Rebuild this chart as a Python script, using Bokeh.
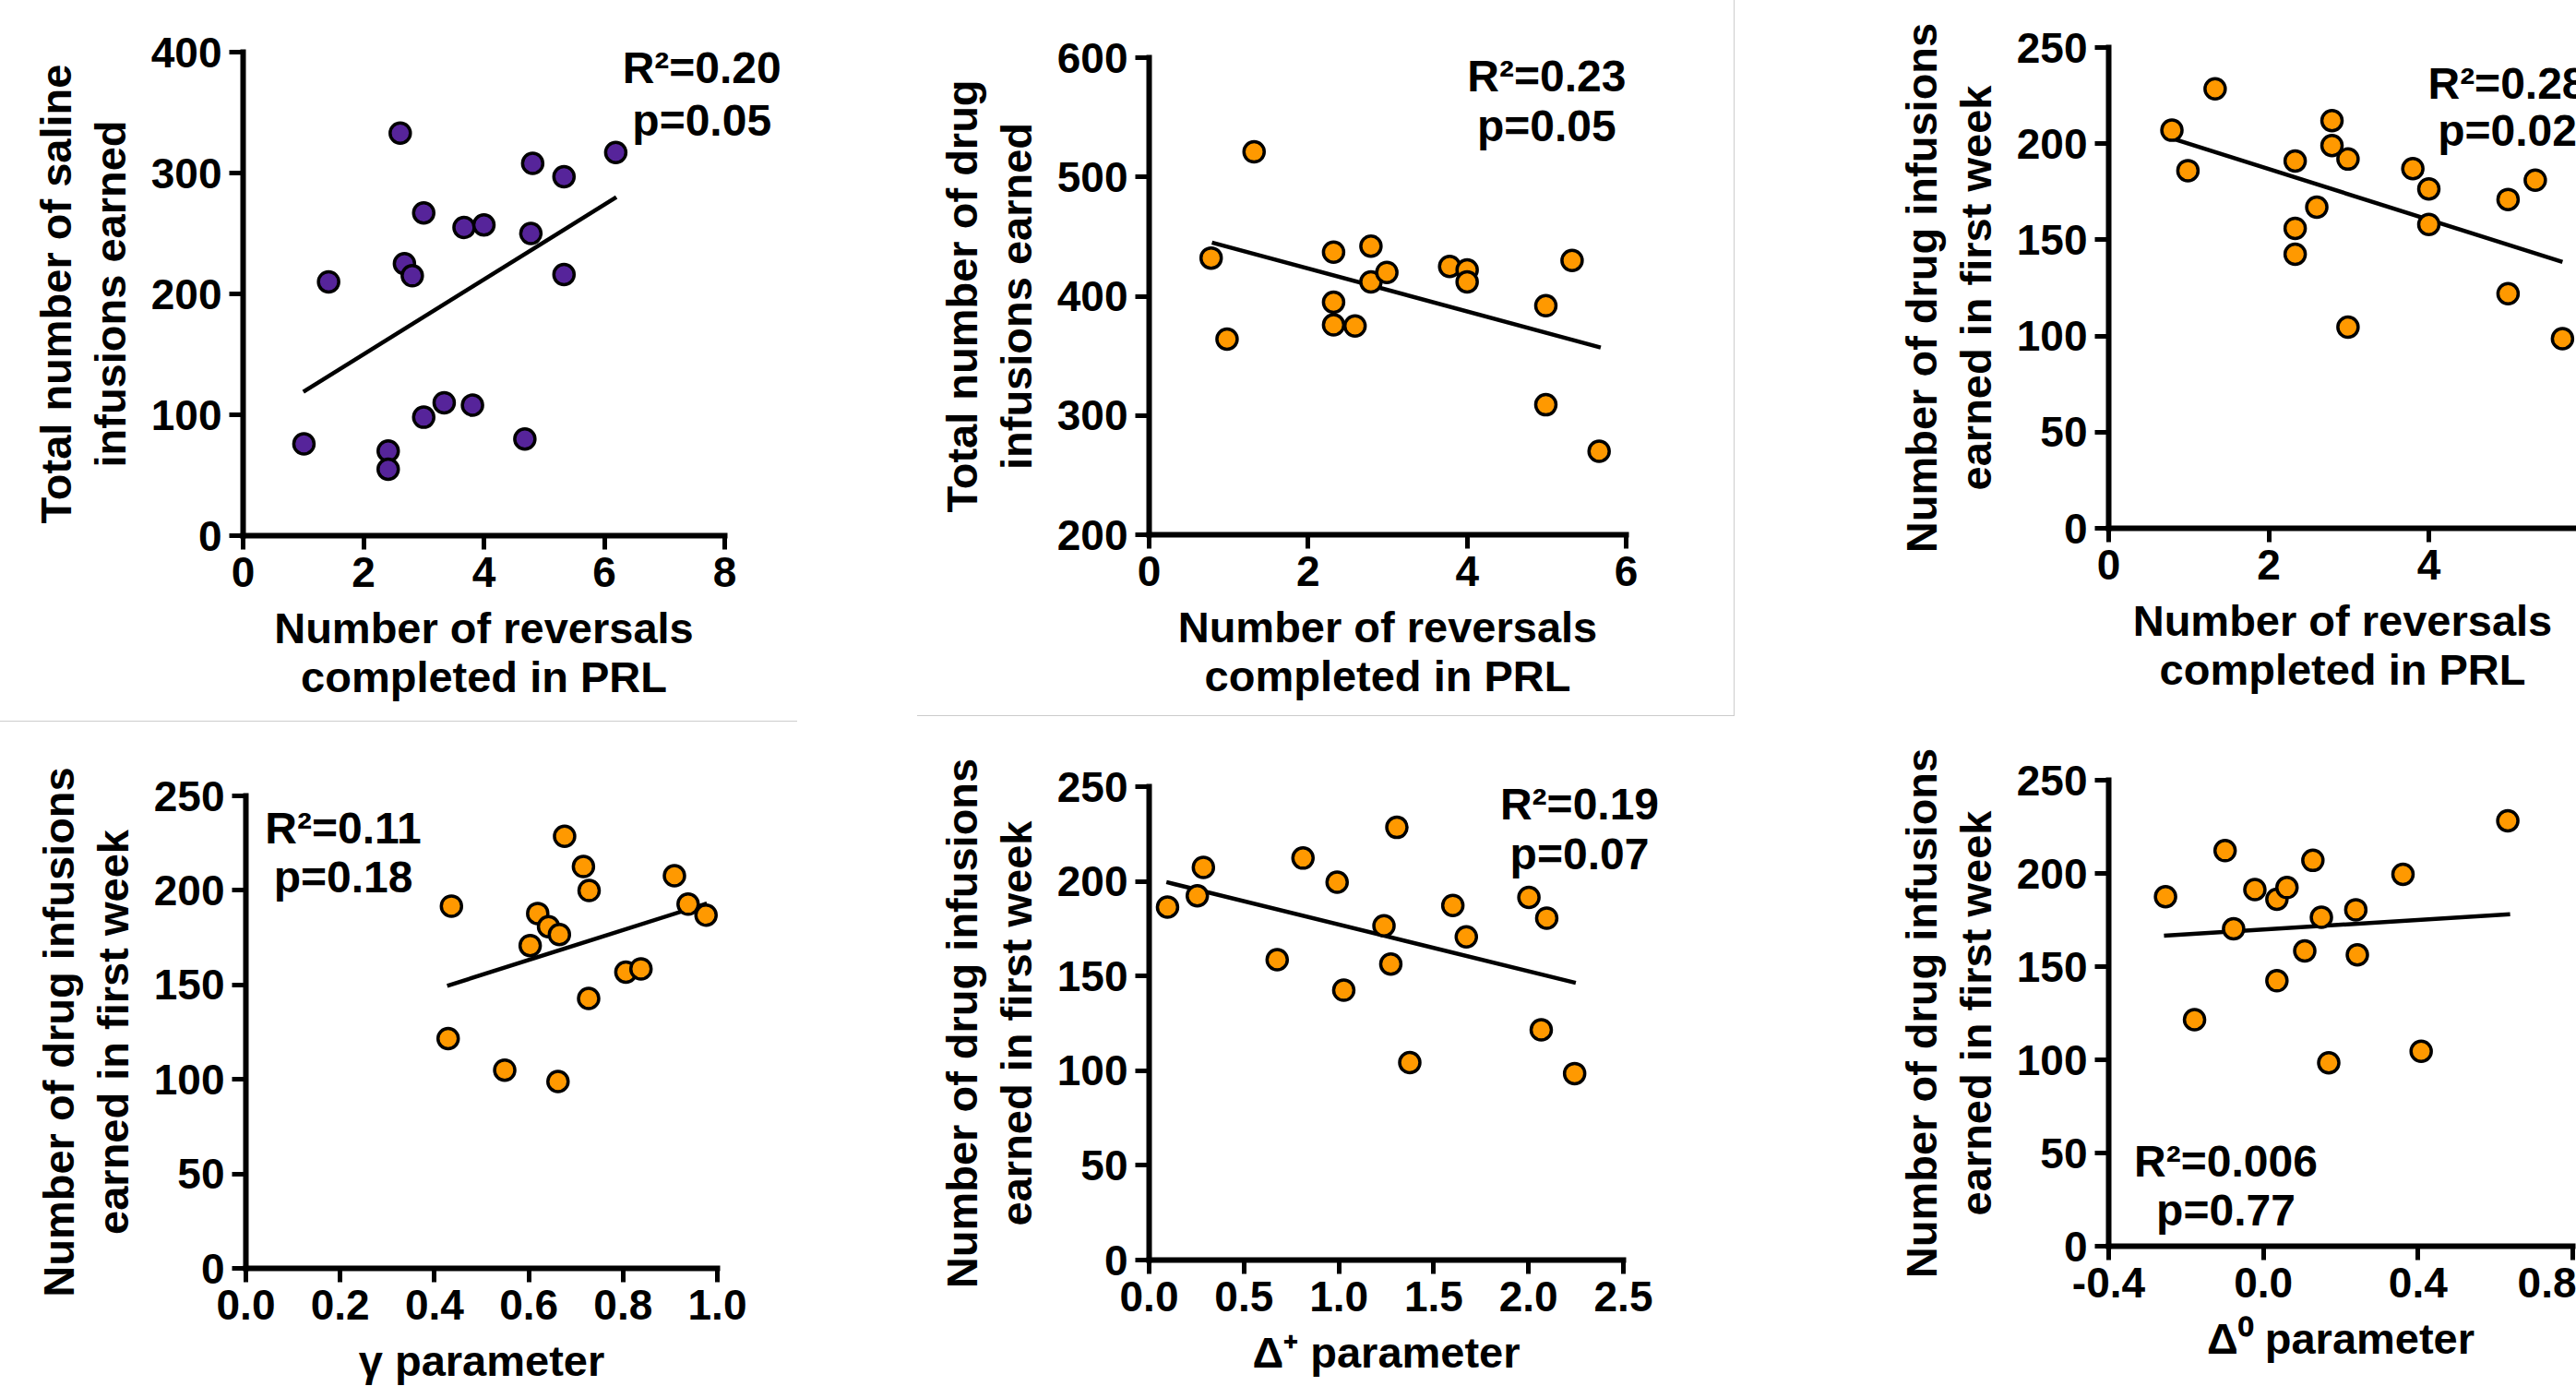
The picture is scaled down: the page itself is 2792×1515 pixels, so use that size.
from bokeh.plotting import figure
from bokeh.layouts import column, row
from bokeh.models import Range1d, FixedTicker, PrintfTickFormatter, Label, Spacer
from bokeh.embed import file_html
from bokeh.resources import INLINE

FONT = "Liberation Sans"
PURPLE = "#56249A"
ORANGE = "#FF9900"

# ---------------- data ----------------
# Panel A: reversals vs total saline infusions
a_x = [1.01, 1.42, 2.41, 2.41, 2.61, 2.68, 2.81, 3.0, 3.0, 3.34, 3.67, 3.81, 4.0, 4.68, 4.81, 4.78, 5.33, 5.33, 6.19]
a_y = [76, 210, 70, 55, 333, 225, 215, 267, 98, 110, 255, 108, 257, 80, 308, 250, 297, 216, 317]
a_fit_x = [1.0, 6.2]
a_fit_y = [119, 280]

# Panel B: reversals vs total drug infusions
b_x = [0.78, 0.98, 1.32, 2.32, 2.32, 2.32, 2.59, 2.79, 2.79, 2.99, 3.78, 4.0, 4.0, 4.99, 4.99, 5.32, 5.66]
b_y = [432, 364, 521, 437, 395, 376, 375, 442, 412, 420, 425, 422, 412, 392, 309, 430, 270]
b_fit_x = [0.79, 5.68]
b_fit_y = [445, 357]

# Panel C: reversals vs first-week drug infusions
c_x = [0.79, 0.99, 1.33, 2.33, 2.33, 2.33, 2.60, 2.79, 2.79, 2.99, 2.99, 3.80, 4.0, 4.0, 4.99, 4.99, 5.33, 5.67]
c_y = [207, 186, 228.5, 191, 156, 142.5, 167, 212, 199, 192, 104.6, 187, 176.5, 158, 171, 122, 181, 98.6]
c_fit_x = [0.74, 5.67]
c_fit_y = [203.4, 138.5]

# Panel D: gamma parameter
d_x = [0.436, 0.429, 0.549, 0.603, 0.619, 0.642, 0.665, 0.662, 0.676, 0.716, 0.728, 0.727, 0.806, 0.838, 0.909, 0.938, 0.976]
d_y = [191.7, 121.6, 104.9, 170.8, 187.8, 180.8, 176.6, 98.9, 228.6, 212.6, 199.9, 142.8, 156.7, 158.5, 207.8, 192.7, 186.9]
d_fit_x = [0.427, 0.978]
d_fit_y = [149.5, 193.1]

# Panel E: delta+ parameter
e_x = [0.097, 0.254, 0.286, 0.675, 0.811, 0.991, 1.026, 1.238, 1.274, 1.306, 1.374, 1.601, 1.672, 2.002, 2.067, 2.096, 2.243]
e_y = [186.4, 192.4, 207.4, 158.6, 212.3, 199.6, 142.5, 176.5, 156.3, 228.5, 104.3, 187.3, 170.7, 191.5, 121.6, 180.6, 98.5]
e_fit_x = [0.091, 2.249]
e_fit_y = [199.6, 146.4]

# Panel F: delta0 parameter
f_x = [-0.253, -0.178, -0.099, -0.077, -0.022, 0.035, 0.035, 0.061, 0.107, 0.128, 0.150, 0.169, 0.239, 0.243, 0.361, 0.408, 0.632]
f_y = [187.5, 121.5, 212.2, 170.3, 191.3, 186.1, 142.4, 192.4, 158.4, 207.0, 176.5, 98.4, 180.5, 156.3, 199.5, 104.6, 228.2]
f_fit_x = [-0.257, 0.638]
f_fit_y = [166.6, 178.1]

stats_a = ["R\u00b2=0.20", "p=0.05"]
stats_b = ["R\u00b2=0.23", "p=0.05"]
stats_c = ["R\u00b2=0.28", "p=0.02"]
stats_d = ["R\u00b2=0.11", "p=0.18"]
stats_e = ["R\u00b2=0.19", "p=0.07"]
stats_f = ["R\u00b2=0.006", "p=0.77"]

xt_rev_a = [0, 2, 4, 6, 8]
xt_rev_b = [0, 2, 4, 6]
yt_a = [0, 100, 200, 300, 400]
yt_b = [200, 300, 400, 500, 600]
yt_week = [0, 50, 100, 150, 200, 250]
xt_gamma = [0.0, 0.2, 0.4, 0.6, 0.8, 1.0]
xt_dplus = [0.0, 0.5, 1.0, 1.5, 2.0, 2.5]
xt_dzero = [-0.4, 0.0, 0.4, 0.8]

XLAB_REV = "Number of reversals\ncompleted in PRL"
YLAB_WEEK = "Number of drug infusions\nearned in first week"


def panel(box, xmap, ymap, xb, yb, xt, yt, xfmt, xlab, ylab, xs, ys, col, fx, fy,
          stats, stat_pos, styles=None):
    # box: canvas (left, top, width, height) in page pixels
    # xmap/ymap: two anchor values and the page pixels where they sit
    bx, by, w, h = box
    (xa, pxa), (xb2, pxb) = xmap
    (ya, pya), (yb2, pyb) = ymap
    sx = (xb2 - xa) / (pxb - pxa)
    sy = (yb2 - ya) / (pya - pyb)
    x0 = xa - (pxa - bx) * sx
    x1 = xb2 + (bx + w - pxb) * sx
    y0 = ya - (by + h - pya) * sy
    y1 = yb2 + (pyb - by) * sy

    p = figure(width=w, height=h, output_backend="svg", toolbar_location=None,
               title=None, x_range=Range1d(x0, x1), y_range=Range1d(y0, y1),
               min_border_left=0, min_border_right=0,
               min_border_top=0, min_border_bottom=0)
    p.outline_line_color = None
    p.border_fill_color = None
    p.background_fill_color = None
    p.xgrid.grid_line_color = None
    p.ygrid.grid_line_color = None
    if styles:
        p.styles = styles
    for ax in (p.xaxis[0], p.yaxis[0]):
        ax.axis_line_width = 6
        ax.axis_line_color = "black"
        ax.axis_line_cap = "square"
        ax.major_tick_line_width = 5
        ax.major_tick_line_color = "black"
        ax.major_tick_out = 15
        ax.major_tick_in = 0
        ax.minor_tick_out = 0
        ax.minor_tick_in = 0
        ax.major_label_text_font = FONT
        ax.major_label_text_font_style = "bold"
        ax.major_label_text_font_size = "46px"
        ax.major_label_text_color = "black"
        ax.axis_label_text_font = FONT
        ax.axis_label_text_font_style = "bold"
        ax.axis_label_text_font_size = "47px"
        ax.axis_label_text_color = "black"
    xax, yax = p.xaxis[0], p.yaxis[0]
    xax.ticker = FixedTicker(ticks=xt)
    yax.ticker = FixedTicker(ticks=yt)
    if xfmt:
        xax.formatter = PrintfTickFormatter(format=xfmt)
    xax.bounds = xb
    yax.bounds = yb
    xax.fixed_location = yb[0]
    yax.fixed_location = xb[0]
    xax.axis_label = xlab
    yax.axis_label = ylab
    xax.major_label_standoff = 8
    yax.major_label_standoff = 8
    xax.axis_label_standoff = 15
    yax.axis_label_standoff = 15
    xax.axis_label_text_line_height = 1.0
    yax.axis_label_text_line_height = 1.1

    p.line(fx, fy, line_color="black", line_width=4.5)
    p.scatter(xs, ys, size=22, fill_color=col, line_color="black", line_width=3.5)

    for t, (tx, ty) in zip(stats, stat_pos):
        p.add_layout(Label(x=tx, y=ty, text=t, text_font=FONT, text_font_style="bold",
                           text_font_size="48px", text_align="center",
                           text_baseline="alphabetic", text_color="black"))
    return p


# page geometry: the Bokeh page has no body margin, canvas starts at (0, 0)
pa = panel((0, 0, 864, 776), ((0, 263), (8, 785)), ((0, 580), (400, 56)), (0, 8), (0, 400),
           xt_rev_a, yt_a, None, XLAB_REV, "Total number of saline\ninfusions earned",
           a_x, a_y, PURPLE, a_fit_x, a_fit_y, stats_a, [(7.62, 387), (7.62, 343.5)])
pb = panel((994, 0, 886, 776), ((0, 1245), (6, 1762)), ((200, 579), (600, 62)), (0, 6), (200, 600),
           xt_rev_b, yt_b, None, XLAB_REV, "Total number of drug\ninfusions earned",
           b_x, b_y, ORANGE, b_fit_x, b_fit_y, stats_b, [(5.0, 584.5), (5.0, 542.7)],
           styles={"box-shadow": "inset -1px -1px 0 0 #cccccc"})
pc = panel((1880, 0, 912, 776), ((0, 2285), (4, 2632)), ((0, 572), (250, 51)), (0, 6), (0, 250),
           xt_rev_b, yt_week, None, XLAB_REV, YLAB_WEEK,
           c_x, c_y, ORANGE, c_fit_x, c_fit_y, stats_c, [(4.98, 231.5), (4.98, 206.8)])

pd_ = panel((0, 776, 864, 738), ((0, 266), (1, 777)), ((0, 1374), (250, 862)), (0, 1), (0, 250),
            xt_gamma, yt_week, "%.1f", "\u03b3 parameter", YLAB_WEEK,
            d_x, d_y, ORANGE, d_fit_x, d_fit_y, stats_d, [(0.2065, 232.9), (0.2065, 207.2)],
            styles={"box-shadow": "inset 0 5px 0 0 #ffffff, inset 0 6px 0 0 #cccccc"})
pe = panel((994, 776, 886, 738), ((0, 1245), (2.5, 1759)), ((0, 1365), (250, 852)), (0, 2.5), (0, 250),
           xt_dplus, yt_week, "%.1f", "\u0394\u207a parameter", YLAB_WEEK,
           e_x, e_y, ORANGE, e_fit_x, e_fit_y, stats_e, [(2.269, 240.7), (2.269, 214.4)])
pf = panel((1880, 776, 912, 738), ((-0.4, 2285), (0.8, 2788)), ((0, 1350), (250, 845)), (-0.4, 0.8), (0, 250),
           xt_dzero, yt_week, "%.1f", "\u0394\u2070 parameter", YLAB_WEEK,
           f_x, f_y, ORANGE, f_fit_x, f_fit_y, stats_f, [(-0.097, 45.5), (-0.097, 19.5)])

layout = column(
    row(pa, Spacer(width=130, height=776), pb, pc),
    row(pd_, Spacer(width=130, height=738), pe, pf),
)

open("out.html", "w").write(file_html(layout, INLINE))
